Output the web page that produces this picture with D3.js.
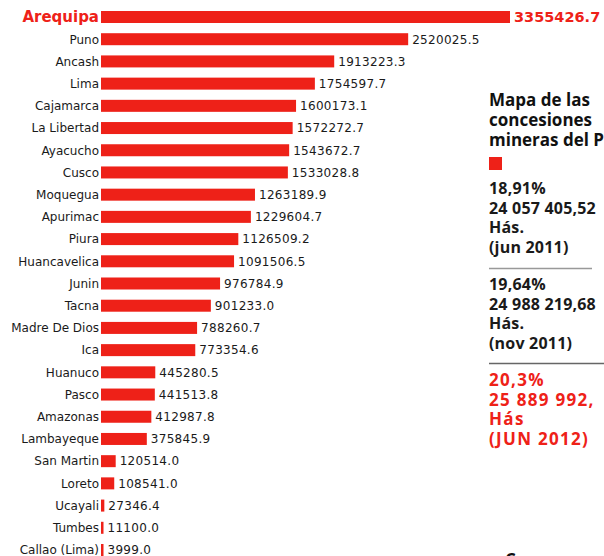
<!DOCTYPE html>
<html>
<head>
<meta charset="utf-8">
<script src="https://cdn.jsdelivr.net/npm/d3@7"></script>
<style>
  body { margin: 0; background: #fff; }
  svg { display: block; }
</style>
</head>
<body>
<div id="chart"></div>
<script>
// Concesiones mineras por región (hectáreas)
const regions = ["Arequipa", "Puno", "Ancash", "Lima", "Cajamarca", "La Libertad", "Ayacucho", "Cusco",
  "Moquegua", "Apurimac", "Piura", "Huancavelica", "Junin", "Tacna", "Madre De Dios", "Ica",
  "Huanuco", "Pasco", "Amazonas", "Lambayeque", "San Martin", "Loreto", "Ucayali", "Tumbes", "Callao (Lima)"];
const hectares = [3355426.7, 2520025.5, 1913223.3, 1754597.7, 1600173.1, 1572272.7, 1543672.7, 1533028.8,
  1263189.9, 1229604.7, 1126509.2, 1091506.5, 976784.9, 901233.0, 788260.7, 773354.6,
  445280.5, 441513.8, 412987.8, 375845.9, 120514.0, 108541.0, 27346.4, 11100.0, 3999.0];
const highlight = "Arequipa";

// bloque de texto a la derecha
const blockTitle = ["Mapa de las", "concesiones", "mineras del Perú"];
const period1 = ["18,91%", "24 057 405,52", "Hás.", "(jun 2011)"];
const period2 = ["19,64%", "24 988 219,68", "Hás.", "(nov 2011)"];
const period3 = ["20,3%", "25 889 992,", "Hás", "(JUN 2012)"];

const width = 604, height = 556;
const red = "#ee2118";

const svg = d3.select("#chart").append("svg")
  .attr("width", width)
  .attr("height", height);

const x = d3.scaleLinear()
  .domain([0, d3.max(hectares)])
  .range([101, 510]);

const y = d3.scalePoint()
  .domain(regions)
  .range([17, 550]);

const barH = 12;
const data = regions.map((r, i) => ({ region: r, value: hectares[i] }));

// barras
svg.selectAll("rect.bar")
  .data(data)
  .enter()
  .append("rect")
  .attr("class", "bar")
  .attr("x", x(0))
  .attr("y", d => y(d.region) - barH / 2)
  .attr("width", d => Math.max(2.5, x(d.value) - x(0)))
  .attr("height", barH)
  .attr("fill", red);

// nombres de regiones
svg.selectAll("text.name")
  .data(data)
  .enter()
  .append("text")
  .attr("class", "name")
  .attr("x", 99)
  .attr("y", d => y(d.region))
  .attr("dy", "0.36em")
  .attr("text-anchor", "end")
  .style("font-family", "DejaVu Sans, sans-serif")
  .style("font-size", d => d.region === highlight ? "15px" : "12px")
  .style("font-weight", d => d.region === highlight ? "bold" : "normal")
  .style("fill", d => d.region === highlight ? red : "#1a1a1a")
  .text(d => d.region);

// valores
svg.selectAll("text.value")
  .data(data)
  .enter()
  .append("text")
  .attr("class", "value")
  .attr("x", d => x(0) + Math.max(2.5, x(d.value) - x(0)) + 4)
  .attr("y", d => y(d.region))
  .attr("dy", "0.36em")
  .style("font-family", "DejaVu Sans, sans-serif")
  .style("font-size", d => d.region === highlight ? "14.5px" : "12px")
  .style("font-weight", d => d.region === highlight ? "bold" : "normal")
  .style("letter-spacing", d => d.region === highlight ? "0px" : "0.3px")
  .style("fill", d => d.region === highlight ? red : "#1a1a1a")
  .text(d => d3.format(".1f")(d.value));

// bloque lateral
const side = svg.append("g").attr("transform", "translate(489,0)");

side.selectAll("text.title")
  .data(blockTitle)
  .enter()
  .append("text")
  .attr("x", 0)
  .attr("y", (d, i) => 106 + i * 20)
  .style("font-family", "Open Sans, sans-serif")
  .style("font-size", "17px")
  .style("font-weight", "bold")
  .style("fill", "#111")
  .text(d => d);

side.append("rect")
  .attr("x", 0).attr("y", 157)
  .attr("width", 13).attr("height", 13)
  .attr("fill", red);

function block(lines, top, color, size, step, spacing) {
  side.append("g").selectAll("text")
    .data(lines)
    .enter()
    .append("text")
    .attr("x", 0)
    .attr("y", (d, i) => top + i * step)
    .style("font-family", "Open Sans, sans-serif")
    .style("font-size", size + "px")
    .style("font-weight", 700)
    .style("letter-spacing", spacing + "px")
    .style("fill", color)
    .text(d => d);
}

block(period1, 194, "#1a1a1a", 16, 19.6, 0.2);
block(period2, 290, "#1a1a1a", 16, 19.6, 0.2);
block(period3, 386, red, 17, 19.5, 1.3);

side.append("line")
  .attr("x1", 0).attr("x2", 103)
  .attr("y1", 268.5).attr("y2", 268.5)
  .attr("stroke", "#999").attr("stroke-width", 1.5);

side.append("line")
  .attr("x1", 0).attr("x2", 120)
  .attr("y1", 363.5).attr("y2", 363.5)
  .attr("stroke", "#666").attr("stroke-width", 1.5);

// texto cortado al pie
side.append("text")
  .attr("x", 8).attr("y", 566)
  .style("font-family", "Open Sans, sans-serif")
  .style("font-size", "17px")
  .style("font-weight", "bold")
  .style("fill", "#111")
  .text("¿C");
</script>
</body>
</html>
